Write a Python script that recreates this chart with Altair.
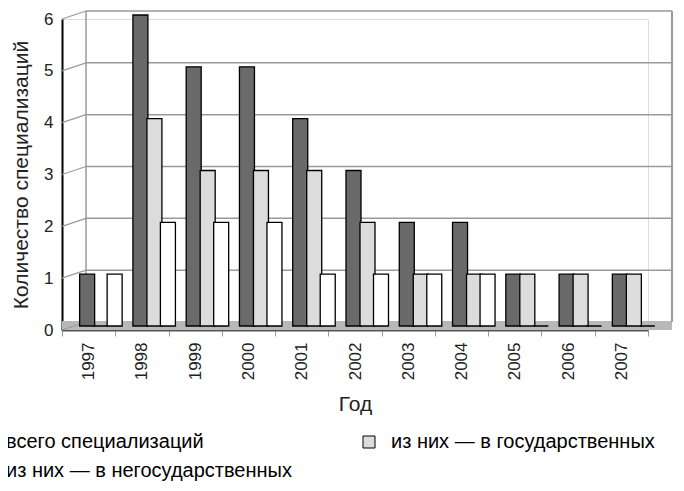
import altair as alt
import pandas as pd

years = ["1997", "1998", "1999", "2000", "2001", "2002", "2003", "2004", "2005", "2006", "2007"]
total = [1, 6, 5, 5, 4, 3, 2, 2, 1, 1, 1]
state = [0, 4, 3, 3, 3, 2, 1, 1, 1, 1, 1]
nonstate = [1, 2, 2, 2, 1, 1, 1, 1, 0, 0, 0]
series = ["всего специализаций", "из них — в государственных", "из них — в негосударственных"]
colors = ["#6a6a6a", "#dcdcdc", "#ffffff"]
offsets = [-1.5, 12.5, 26]
grid_vals = [1, 2, 3, 4, 5, 6]
tick_vals = [0, 1, 2, 3, 4, 5, 6]

rows = []
for name, vals in zip(series, [total, state, nonstate]):
    for yr, v in zip(years, vals):
        rows.append({"year": yr, "series": name, "value": v})
df = pd.DataFrame(rows)

W, H = 586, 311
FONT = "Liberation Sans"
xscale = alt.Scale(domain=years, paddingInner=0, paddingOuter=0)
yscale = alt.Scale(domain=[0, 6], nice=False, zero=True)
fill_scale = alt.Scale(domain=series, range=colors)

legend = alt.Legend(
    title=None, orient="none", legendX=-88, legendY=413, columns=2,
    columnPadding=67, rowPadding=9, labelFontSize=20, labelFont=FONT,
    labelLimit=0, labelColor="black", symbolType="square", symbolSize=144,
    symbolStrokeColor="black", symbolStrokeWidth=1, labelOffset=12,
    direction="horizontal",
)

xaxis = alt.Axis(
    labelAngle=270, labelFontSize=17, labelFont=FONT, labelColor="#222",
    tickBand="extent", tickSize=6, tickColor="#999", domainColor="#555",
    domainWidth=2, labelPadding=6, title="Год", titleFontSize=21,
    titleFont=FONT, titleFontWeight="normal", titlePadding=14, titleColor="#222",
)
yaxis = alt.Axis(
    values=tick_vals, grid=False, tickSize=0, labelFontSize=17, labelFont=FONT,
    labelColor="#222", labelPadding=9, domainColor="black", domainWidth=2,
    title="Количество специализаций", titleFontSize=21, titleFont=FONT,
    titleFontWeight="normal", titlePadding=12, titleColor="#222",
)

grid_df = pd.DataFrame({"v": grid_vals})
tick_df = pd.DataFrame({"v": tick_vals})
one = pd.DataFrame({"a": [0]})

floor = alt.Chart(one).mark_rect(fill="#b8b8b8", y2Offset=-9).encode(
    x=alt.value(0), x2=alt.value(W + 24),
    y=alt.Y(datum=0, scale=yscale, axis=yaxis), y2=alt.datum(0),
)

grid = alt.Chart(grid_df).mark_rule(color="#9a9a9a", strokeWidth=1.5, yOffset=-8).encode(
    y=alt.Y("v:Q", scale=yscale, axis=yaxis), x=alt.value(24), x2=alt.value(W + 24),
)

slants = alt.Chart(tick_df).mark_rule(color="#9a9a9a", strokeWidth=1.2, y2Offset=-8).encode(
    y=alt.Y("v:Q", scale=yscale, axis=yaxis), y2=alt.Y2("v:Q"),
    x=alt.value(0), x2=alt.value(24),
)

wall_left = alt.Chart(one).mark_rule(color="#9a9a9a", strokeWidth=1.5, yOffset=-8, y2Offset=-8).encode(
    x=alt.value(24), y=alt.Y(datum=0, scale=yscale, axis=yaxis), y2=alt.datum(6),
)
wall_right = alt.Chart(one).mark_rule(color="#9a9a9a", strokeWidth=2, yOffset=-8, y2Offset=-8).encode(
    x=alt.value(W + 24), y=alt.Y(datum=0, scale=yscale, axis=yaxis), y2=alt.datum(6),
)

bars = []
for name, off in zip(series, offsets):
    b = alt.Chart(df).transform_filter(alt.datum.series == name).mark_bar(
        width=15, xOffset=off, yOffset=-4, y2Offset=-4, stroke="black", strokeWidth=1.3,
    ).encode(
        x=alt.X("year:N", scale=xscale, axis=xaxis),
        y=alt.Y("value:Q", scale=yscale, axis=yaxis),
        fill=alt.Fill("series:N", scale=fill_scale, legend=legend),
    )
    bars.append(b)

chart = alt.layer(floor, grid, slants, wall_left, wall_right, *bars).properties(
    width=W, height=H,
    autosize=alt.AutoSizeParams(type="none"),
    padding={"left": 54, "top": 11, "right": 28, "bottom": 153},
).configure_view(stroke=None).configure(font=FONT)

chart.save("out.html", embed_options={"renderer": "svg", "actions": False})
